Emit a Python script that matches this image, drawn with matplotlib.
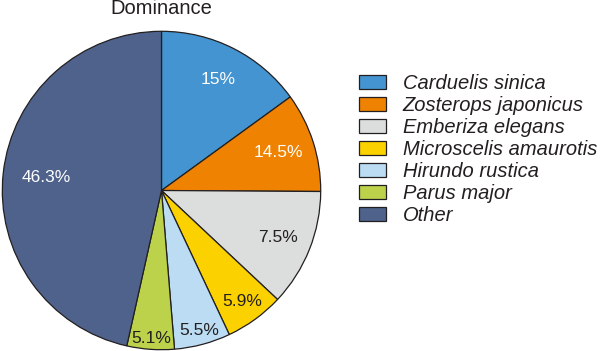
import numpy as np
import matplotlib.pyplot as plt

plt.rcParams['font.family'] = ['Liberation Sans', 'DejaVu Sans']

# species and slice sizes as drawn (printed labels kept separately)
species = ["Carduelis sinica", "Zosterops japonicus", "Emberiza elegans",
           "Microscelis amaurotis", "Hirundo rustica", "Parus major", "Other"]
shares = [15.0, 10.1, 11.9, 6.0, 5.7, 4.8, 46.5]
pct_labels = ["15%", "14.5%", "7.5%", "5.9%", "5.5%", "5.1%", "46.3%"]
colors = ["#4394d0", "#ef8200", "#dcdddd", "#fbd100", "#bbdcf3", "#bcd24b", "#4e628c"]
label_colors = ["white", "white", "#231f20", "#231f20", "#231f20", "#231f20", "white"]
label_dist = [0.78, 0.77, 0.79, 0.86, 0.91, 0.93, 0.73]

fig = plt.figure(figsize=(6, 3.51), dpi=100)
ax = fig.add_axes([1.5 / 600, 0.5 / 351, 320 / 600, 320 / 351])

wedges, _ = ax.pie(shares, colors=colors, startangle=90, counterclock=False,
                   wedgeprops=dict(edgecolor="#231f20", linewidth=0.9))
ax.set_xlim(-1.005, 1.005)
ax.set_ylim(-1.005, 1.005)
ax.set_aspect("equal")
ax.axis("off")

# percentage labels
for w, txt, c, d in zip(wedges, pct_labels, label_colors, label_dist):
    mid = np.deg2rad((w.theta1 + w.theta2) / 2)
    ax.text(d * np.cos(mid), d * np.sin(mid), txt, color=c, fontsize=12.5,
            ha="center", va="center")

fig.text(161 / 600, 1 - 9 / 351, "Dominance", fontsize=14.5, ha="center", va="center",
         color="#231f20")

leg = fig.legend(wedges, species, loc="upper left", bbox_to_anchor=(351 / 600, 1 - 66 / 351),
                 frameon=False, prop={"style": "italic", "size": 14.5},
                 handlelength=1.34, handleheight=0.7, handletextpad=0.83,
                 labelspacing=0.15, borderaxespad=0)
for t in leg.get_texts():
    t.set_color("#231f20")

fig.savefig("out.png", dpi=100)
